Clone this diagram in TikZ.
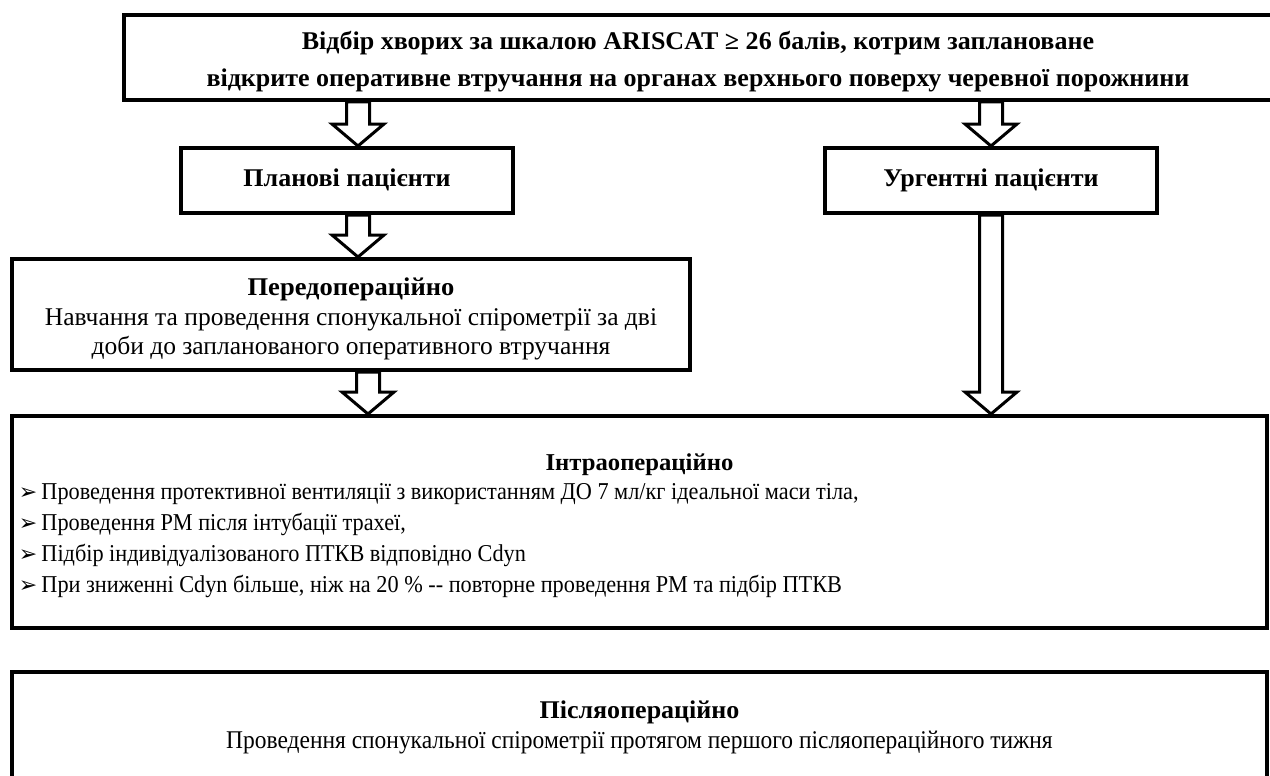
\documentclass[tikz,border=0pt]{standalone}
\usepackage{fontspec}
\setmainfont{Liberation Serif}[FakeStretch=0.92, BoldFeatures={FakeStretch=1.02}]
\newfontfamily\plainserif{Liberation Serif}[BoldFeatures={FakeStretch=1.04}]
\newfontfamily\dingfont{DejaVu Sans}
\usetikzlibrary{calc}

% hollow block arrow between two anchors (same x)
\newcommand{\hollowarrow}[2]{%
  \draw[blockarr] let \p1=(#1), \p2=(#2) in
    (\x1-11.5pt,\y1) -- (\x1-11.5pt,\y2+22pt) -- (\x1-26pt,\y2+22pt) -- (\x1,\y2)
    -- (\x1+26pt,\y2+22pt) -- (\x1+11.5pt,\y2+22pt) -- (\x1+11.5pt,\y1) -- cycle;}
\newcommand{\bul}{{\dingfont\fontsize{22}{22}\selectfont ➢}\hspace{4pt}}

\begin{document}
\begin{tikzpicture}[x=1pt, y=-1pt,
		box/.style={draw, line width=4pt, fill=white, inner sep=0pt, align=center, font=\fontsize{25.5}{30}\selectfont},
		group/.style={box, minimum width=332pt, minimum height=65pt, text height=18pt, text depth=6pt, font=\bfseries\fontsize{25.5}{30}\selectfont},
		blockarr/.style={draw, line width=3pt, fill=white, line join=miter}]
		
		\clip (0,0) rectangle (1270,776);
		
		% Відбір хворих
		\node[box, minimum width=1148pt, minimum height=85pt, font=\bfseries\fontsize{25.5}{37}\selectfont] (sel) at (698,57.5)
			{\rule{0pt}{26pt}Відбір хворих за шкалою ARISCAT ≥ 26 балів, котрим заплановане\\
			 відкрите оперативне втручання на органах верхнього поверху черевної порожнини};
		
		% Групи пацієнтів
		\node[group] (plan) at (347,180.5) {Планові пацієнти};
		\node[group] (urg) at (991,180.5) {Ургентні пацієнти};
		
		% Етапи
		\node[box, minimum width=678pt, minimum height=111pt, font=\plainserif\fontsize{25.5}{29.5}\selectfont] (pre) at (351,314.5)
			{\rule{0pt}{27pt}\textbf{Передопераційно}\\
			 Навчання та проведення спонукальної спірометрії за дві\\
			 доби до запланованого оперативного втручання};
		\node[box, minimum width=1255pt, minimum height=212pt] (intra) at (639.5,522)
			{\begin{minipage}{1241pt}\fontsize{24.2}{31}\selectfont
			 \centering\rule{0pt}{24pt}\textbf{Інтраопераційно}\par\vspace{-2pt}
			 \raggedright
			 \bul Проведення протективної вентиляції з використанням ДО 7 мл/кг ідеальної маси тіла,\\
			 \bul Проведення РМ після інтубації трахеї,\\
			 \bul Підбір індивідуалізованого ПТКВ відповідно Cdyn\\
			 \bul При зниженні Cdyn більше, ніж на 20~\% -{}- повторне проведення РМ та підбір ПТКВ
			 \end{minipage}};
		\node[box, minimum width=1255pt, minimum height=110pt] (post) at (639.5,727)
			{\textbf{Післяопераційно}\\
			 Проведення спонукальної спірометрії протягом першого післяопераційного тижня};
		
		% Стрілки
		\coordinate (xl) at (358,0);
		\coordinate (xm) at (368,0);
		\coordinate (xr) at (991,0);
		\hollowarrow{sel.south -| xl}{plan.north -| xl}
		\hollowarrow{sel.south -| xr}{urg.north -| xr}
		\hollowarrow{plan.south -| xl}{pre.north -| xl}
		\hollowarrow{pre.south -| xm}{intra.north -| xm}
		\hollowarrow{urg.south -| xr}{intra.north -| xr}
		
	\end{tikzpicture}
\end{document}
